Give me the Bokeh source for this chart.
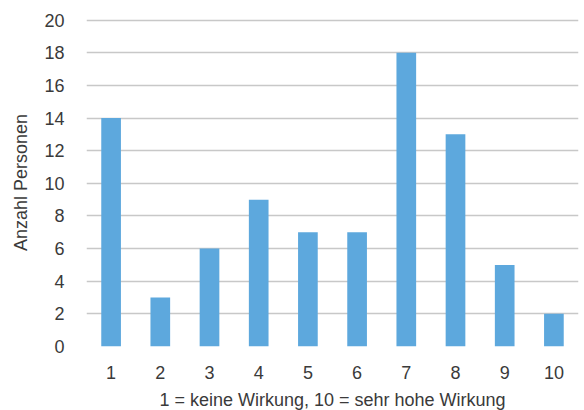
from bokeh.plotting import figure
from bokeh.models import FactorRange, Range1d, FixedTicker
from bokeh.embed import file_html
from bokeh.resources import INLINE

categories = ["1", "2", "3", "4", "5", "6", "7", "8", "9", "10"]
counts = [14, 3, 6, 9, 7, 7, 18, 13, 5, 2]
y_ticks = [0, 2, 4, 6, 8, 10, 12, 14, 16, 18, 20]

FONT = "Liberation Sans"
TXT = "#3a3a3a"

p = figure(x_range=FactorRange(*categories, range_padding=0),
           y_range=Range1d(0, 20.1),
           frame_width=492, frame_height=328,
           min_border_left=86, min_border_right=2, min_border_top=18, min_border_bottom=62,
           output_backend="svg", toolbar_location=None)

p.vbar(x=categories, top=counts, width=0.4, color="#5DA8DD", line_color=None)

p.outline_line_color = None
p.xgrid.grid_line_color = None
p.ygrid.grid_line_color = "#C8C8C8"
p.ygrid.grid_line_width = 1.5
p.yaxis.ticker = FixedTicker(ticks=y_ticks)

for ax in (p.xaxis, p.yaxis):
    ax.axis_line_color = None
    ax.major_tick_line_color = None
    ax.minor_tick_line_color = None
    ax.major_label_text_font = FONT
    ax.major_label_text_font_size = "18px"
    ax.major_label_text_color = TXT
    ax.axis_label_text_font = FONT
    ax.axis_label_text_font_size = "18px"
    ax.axis_label_text_font_style = "normal"
    ax.axis_label_text_color = TXT

p.xaxis.axis_label = "1 = keine Wirkung, 10 = sehr hohe Wirkung"
p.yaxis.axis_label = "Anzahl Personen"
p.xaxis.major_label_standoff = 13
p.yaxis.major_label_standoff = 16
p.xaxis.axis_label_standoff = 8
p.yaxis.axis_label_standoff = 10

open("out.html", "w").write(file_html(p, INLINE))
